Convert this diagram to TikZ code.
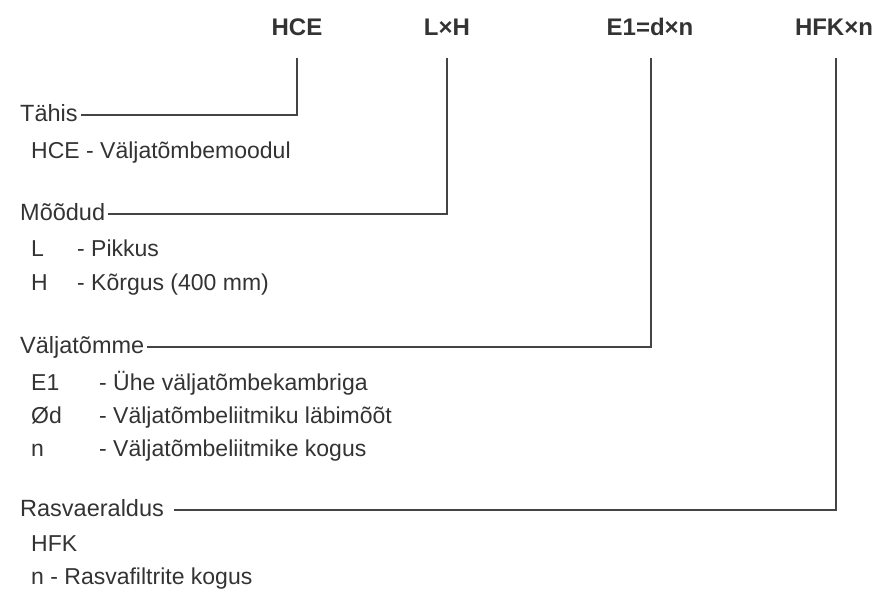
\documentclass[tikz,border=0pt]{standalone}
\usepackage{fontspec}
\setmainfont{Liberation Sans}
\definecolor{txt}{HTML}{333333}
\definecolor{ln}{HTML}{444444}
\tikzset{
  toplabel/.style={font=\fontsize{24}{28}\selectfont\bfseries, text=txt, inner sep=0pt, anchor=base},
  heading/.style={font=\fontsize{23.5}{28}\selectfont, text=txt, inner sep=0pt, text height=12pt, text depth=0pt, anchor=west},
  body/.style={font=\fontsize{23}{27}\selectfont, text=txt, inner sep=0pt, anchor=base west},
  conn/.style={draw=ln, line width=1.3pt}
}
\begin{document}
\begin{tikzpicture}[x=1pt,y=-1pt]
\useasboundingbox (0,0) rectangle (879,592);
% top labels
\node[toplabel] (lhce) at (297,35) {HCE};
\node[toplabel] (llh) at (447,35) {L×H};
\node[toplabel] (le) at (650,35) {E1=d×n};
\node[toplabel] (lhfk) at (834,35) {HFK×n};
\coordinate (thce) at (297,58);
\coordinate (tlh) at (447,58);
\coordinate (te) at (651,58);
\coordinate (thfk) at (836,58);
% headings
\node[heading] (tahis) at (20,115) {Tähis};
\node[heading] (moodud) at (20,214) {Mõõdud};
\node[heading] (valja) at (20,347) {Väljatõmme};
\node[heading] (rasva) at (20,510) {Rasvaeraldus};
% connectors
\draw[conn] ([xshift=3pt]tahis.east) -| (thce);
\draw[conn] ([xshift=3pt]moodud.east) -| (tlh);
\draw[conn] ([xshift=3pt]valja.east) -| (te);
\draw[conn] ([xshift=10pt]rasva.east) -| (thfk);
% body
\node[body] (b1) at (31,158) {HCE - Väljatõmbemoodul};
\node[body] (b2a) at (31,256) {L};
\node[body] (b2b) at (77,256) {- Pikkus};
\node[body] (b3a) at (31,290) {H};
\node[body] (b3b) at (77,290) {- Kõrgus (400 mm)};
\node[body] (b4a) at (31,390) {E1};
\node[body] (b4b) at (99,390) {- Ühe väljatõmbekambriga};
\node[body] (b5a) at (31,423) {Ød};
\node[body] (b5b) at (99,423) {- Väljatõmbeliitmiku läbimõõt};
\node[body] (b6a) at (31,456) {n};
\node[body] (b6b) at (99,456) {- Väljatõmbeliitmike kogus};
\node[body] (b7) at (31,551) {HFK};
\node[body] (b8) at (31,584) {n - Rasvafiltrite kogus};
\end{tikzpicture}
\end{document}
